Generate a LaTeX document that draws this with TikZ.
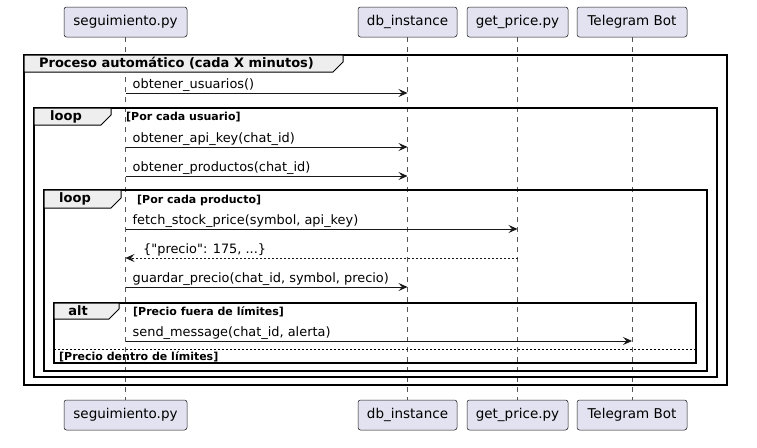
\documentclass[tikz,border=0pt]{standalone}
\usepackage{fontspec}
\setmainfont{DejaVu Sans}
\usetikzlibrary{arrows.meta}
\definecolor{partfill}{HTML}{E2E2F0}
\definecolor{partdraw}{HTML}{181818}
\definecolor{tabfill}{HTML}{EEEEEE}
\definecolor{lifegray}{HTML}{555555}
\begin{document}
\begin{tikzpicture}[x=1pt,y=-1pt,
  part/.style={draw=partdraw, fill=partfill, rounded corners=2.5pt, line width=0.5pt,
    minimum height=30pt, inner sep=0pt, font=\fontsize{13.5}{15}\selectfont},
  lifeline/.style={draw=lifegray, line width=0.5pt, dash pattern=on 5pt off 5pt},
  msg/.style={line width=0.8pt, draw=partdraw, -{Stealth[length=9pt,width=8pt,inset=3.5pt]}},
  ret/.style={line width=0.6pt, draw=partdraw, dash pattern=on 2pt off 2pt, -{Stealth[length=9pt,width=8pt,inset=3.5pt]}},
  mlabel/.style={anchor=base west, inner sep=0pt, font=\fontsize{12.9}{14}\selectfont},
  frame/.style={draw=black, line width=1.5pt},
  tab/.style={draw=black, line width=1pt, fill=tabfill},
  tlabel/.style={inner sep=0pt, font=\bfseries\fontsize{13}{15}\selectfont},
  guard/.style={anchor=base west, inner sep=0pt, font=\bfseries\fontsize{11}{12}\selectfont},
  sep/.style={draw=black, line width=0.8pt, dash pattern=on 2pt off 2pt}
]
\useasboundingbox (0,0) rectangle (757,447);
\fill[white] (0,0) rectangle (757,447);

% participants
\node[part, minimum width=123pt] (s1) at (125.5,22) {seguimiento.py};
\node[part, minimum width=99pt]  (d1) at (407.5,22) {db\_instance};
\node[part, minimum width=101pt] (g1) at (517.5,22) {get\_price.py};
\node[part, minimum width=110pt] (t1) at (632,22) {Telegram Bot};
\node[part, minimum width=123pt] (s2) at (125.5,415) {seguimiento.py};
\node[part, minimum width=99pt]  (d2) at (407.5,415) {db\_instance};
\node[part, minimum width=101pt] (g2) at (517.5,415) {get\_price.py};
\node[part, minimum width=110pt] (t2) at (632,415) {Telegram Bot};

% lifelines
\draw[lifeline] (s1.south) -- (s2.north);
\draw[lifeline] (d1.south) -- (d2.north);
\draw[lifeline] (g1.south) -- (g2.north);
\draw[lifeline] (t1.south) -- (t2.north);

% frames
\draw[frame] (24,55) rectangle (727,385);
\draw[tab] (24,55) -- (343,55) -- (343,62) -- (333,72) -- (24,72) -- cycle;
\node[tlabel] (f0) at (176.5,63.5) {Proceso automático (cada X minutos)};

\draw[frame] (34,108) rectangle (717,377);
\draw[tab] (34,108) -- (111,108) -- (111,115) -- (101,125) -- (34,125) -- cycle;
\node[tlabel] (f1) at (66,116.5) {loop};
\node[guard] (g1l) at (126,120) {[Por cada usuario]};

\draw[frame] (44,190) rectangle (707,371);
\draw[tab] (44,190) -- (121,190) -- (121,198) -- (111,208) -- (44,208) -- cycle;
\node[tlabel] (f2) at (75,199) {loop};
\node[guard] (g2l) at (137,203) {[Por cada producto]};

\draw[frame] (54,303) rectangle (696,363);
\draw[tab] (54,303) -- (119,303) -- (119,309) -- (109,319) -- (54,319) -- cycle;
\node[tlabel] (f3) at (78,311) {alt};
\node[guard] (g3l) at (133,315) {[Precio fuera de límites]};
\coordinate (sepL) at (54,349);
\coordinate (sepR) at (696,349);
\draw[sep] (sepL) -- (sepR);
\node[guard] (g4l) at (59,360) {[Precio dentro de límites]};

% message coordinates
\coordinate (a1) at (125.5,93);  \coordinate (b1) at (407.5,93);
\coordinate (a2) at (125.5,147); \coordinate (b2) at (407.5,147);
\coordinate (a3) at (125.5,176); \coordinate (b3) at (407.5,176);
\coordinate (a4) at (125.5,229); \coordinate (b4) at (517.5,229);
\coordinate (a5) at (125.5,258); \coordinate (b5) at (517.5,258);
\coordinate (a6) at (125.5,287); \coordinate (b6) at (407.5,287);
\coordinate (a7) at (125.5,341); \coordinate (b7) at (632,341);

\draw[msg] (a1) -- (b1);
\node[mlabel] (m1) at (132.5,88) {obtener\_usuarios()};
\draw[msg] (a2) -- (b2);
\node[mlabel] (m2) at (132.5,142) {obtener\_api\_key(chat\_id)};
\draw[msg] (a3) -- (b3);
\node[mlabel] (m3) at (132.5,171) {obtener\_productos(chat\_id)};
\draw[msg] (a4) -- (b4);
\node[mlabel] (m4) at (132.5,224) {fetch\_stock\_price(symbol, api\_key)};
\draw[ret] (b5) -- (a5);
\node[mlabel] (m5) at (143,253) {\{\textquotedbl precio\textquotedbl: 175, ...\}};
\draw[msg] (a6) -- (b6);
\node[mlabel] (m6) at (132.5,282) {guardar\_precio(chat\_id, symbol, precio)};
\draw[msg] (a7) -- (b7);
\node[mlabel] (m7) at (132.5,336) {send\_message(chat\_id, alerta)};
\end{tikzpicture}
\end{document}
